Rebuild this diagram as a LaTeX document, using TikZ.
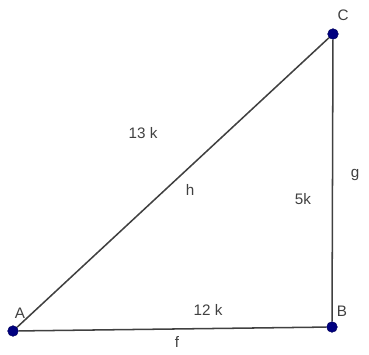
\documentclass[tikz,border=0pt]{standalone}
\usepackage{fontspec}
\setmainfont{Liberation Sans}
\usetikzlibrary{
  positioning,
  calc
}

\begin{document}
\begin{tikzpicture}[
    x=0.03cm,
    y=-0.03cm,
    ponto/.style={
        circle,
        fill=blue!50!black,
        draw=blue!35!black,
        inner sep=0pt,
        minimum size=0.32cm
    },
    lado/.style={
        line width=1.3pt,
        black!75
    },
    rotulo/.style={
        font=\fontsize{13}{15}\selectfont,
        text=black!75,
        inner sep=1pt
    }
]

\useasboundingbox (0,0) rectangle (369,354);

% ============================================================
% VERTICES
% ============================================================

\node[ponto] (A) at (13,331) {};
\node[ponto] (B) at (332,327) {};
\node[ponto] (C) at (333,34) {};

% ============================================================
% LADOS
% ============================================================

\draw[lado] (A) -- (B);
\draw[lado] (B) -- (C);
\draw[lado] (C) -- (A);

% ============================================================
% ROTULOS
% ============================================================

\node[rotulo] (lA) at (20,313) {A};
\node[rotulo] (lB) at (342,311) {B};
\node[rotulo] (lC) at (343,15) {C};

\node[rotulo] (hip) at (143,133) {13 k};
\node[rotulo] (base) at (208,310) {12 k};
\node[rotulo] (alt) at (303,199) {5k};

\node[rotulo] (f) at (177,342) {f};
\node[rotulo] (g) at (355,175) {g};
\node[rotulo] (h) at (190,190) {h};

\end{tikzpicture}
\end{document}
